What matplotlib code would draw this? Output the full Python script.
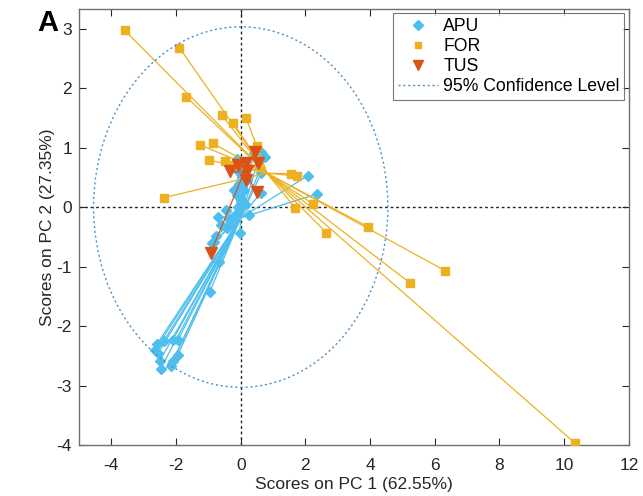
import matplotlib
matplotlib.use("Agg")
import matplotlib.pyplot as plt
import numpy as np
from matplotlib.patches import Ellipse
from matplotlib.lines import Line2D

plt.rcParams['font.family'] = ['Liberation Sans', 'DejaVu Sans']
plt.rcParams['axes.unicode_minus'] = False

# ---- data ----
apu_x = [2.08, 2.36, 0.41, 0.62, 0.75, 0.64, 0.62, -0.11, -0.11, 0.04, 0.19, -0.06,
         -0.21, 0.10, -0.11, 0.04, -0.09, -0.18, -0.27, -0.43, -0.03, -0.47, -0.70,
         -0.61, -0.77, -0.89, -0.83, -0.67, -0.96, 0.26, -0.35, 0.12,
         -2.60, -2.66, -2.55, -2.38, -2.10, -1.94, -1.94, -2.50, -2.48, -2.17, -2.10]
apu_y = [0.53, 0.22, 0.91, 0.93, 0.84, 0.58, 0.24, 0.80, 0.63, 0.54, 0.46, 0.38,
         0.29, 0.29, 0.21, 0.12, 0.00, -0.13, -0.26, -0.35, -0.43, -0.05, -0.16,
         -0.30, -0.48, -0.60, -0.58, -0.93, -1.43, -0.13, -0.20, 0.05,
         -2.31, -2.41, -2.45, -2.25, -2.23, -2.23, -2.48, -2.58, -2.72, -2.68, -2.58]
for_x = [-3.59, -1.90, -1.68, -0.59, -0.24, 0.17, -1.27, -0.86, 0.50, -0.97, -0.48,
         -2.36, 1.55, 1.73, 1.69, 2.24, 3.93, 2.65, 6.32, 5.22, 10.32, -0.20]
for_y = [2.97, 2.68, 1.85, 1.55, 1.42, 1.49, 1.05, 1.07, 1.03, 0.79, 0.77,
         0.16, 0.56, 0.52, -0.02, 0.05, -0.33, -0.43, -1.07, -1.27, -3.96, 0.70]
tus_x = [0.43, 0.53, 0.15, -0.09, -0.33, 0.20, 0.15, 0.51, -0.93]
tus_y = [0.93, 0.74, 0.74, 0.70, 0.60, 0.60, 0.46, 0.26, -0.77]

# group centres (where connecting lines meet)
centre_apu = (0.00, -0.18)
centre_for = (0.81, 0.57)
centre_tus = (0.10, 0.58)

# 95% confidence ellipse semi-axes
ell_a, ell_b = 4.55, 3.03

groups = [
    ("APU", apu_x, apu_y, centre_apu, '#4DBEEE', 'D', 5.5),
    ("FOR", for_x, for_y, centre_for, '#EDB120', 's', 5.5),
    ("TUS", tus_x, tus_y, centre_tus, '#D95319', 'v', 8),
]

fig = plt.figure(figsize=(6.43, 4.96), dpi=100)
ax = fig.add_axes([0.1229, 0.1028, 0.978 - 0.1229, 0.9819 - 0.1028])

ax.axhline(0, color='#222222', ls=(0, (2, 2)), lw=1.0, zorder=1)
ax.axvline(0, color='#222222', ls=(0, (2, 2)), lw=1.0, zorder=1)

handles = []
z = 2
for name, xs, ys, c, col, mk, ms in groups:
    for x, y in zip(xs, ys):
        ax.plot([x, c[0]], [y, c[1]], color=col, lw=0.9, zorder=z)
    ax.plot(xs, ys, ls='none', marker=mk, ms=ms, color=col, mec=col, zorder=z + 0.5)
    handles.append(Line2D([], [], ls='none', marker=mk, ms=ms * 0.85, color=col, mec=col))
    z += 1

ell = Ellipse((0, 0), 2 * ell_a, 2 * ell_b, fill=False, ec='#4a90c8',
              ls=(0, (1.5, 2)), lw=1.0, zorder=6)
ax.add_patch(ell)
handles.append(Line2D([], [], color='#4a90c8', ls=(0, (1.5, 2)), lw=1.0))

ax.set_xlim(-5, 12)
ax.set_ylim(-4, 3.33)
ax.set_xticks(np.arange(-4, 13, 2))
ax.set_yticks(np.arange(-4, 4, 1))
ax.tick_params(axis='both', direction='in', top=True, right=True, labelsize=12.5,
               colors='#262626', length=5, width=0.8)
ax.tick_params(axis='x', pad=9)
ax.tick_params(axis='y', pad=5)
for s in ax.spines.values():
    s.set_color('#707070')
    s.set_linewidth(1.0)

ax.set_xlabel('Scores on PC 1 (62.55%)', fontsize=12.5, color='#262626', labelpad=3)
ax.set_ylabel('Scores on PC 2 (27.35%)', fontsize=12.5, color='#262626', labelpad=1)

leg = ax.legend(handles, ["APU", "FOR", "TUS", "95% Confidence Level"],
                loc='upper right', bbox_to_anchor=(0.9915, 0.99), fontsize=12.7,
                frameon=True, fancybox=False, edgecolor='#555555',
                handlelength=2.3, handletextpad=0.3, borderpad=0.25,
                labelspacing=0.18, borderaxespad=0.0)
leg.get_frame().set_linewidth(0.8)

fig.text(0.058, 0.937, 'A', fontsize=21, fontweight='bold', ha='left', va='baseline')

fig.savefig('out.png', dpi=100)
